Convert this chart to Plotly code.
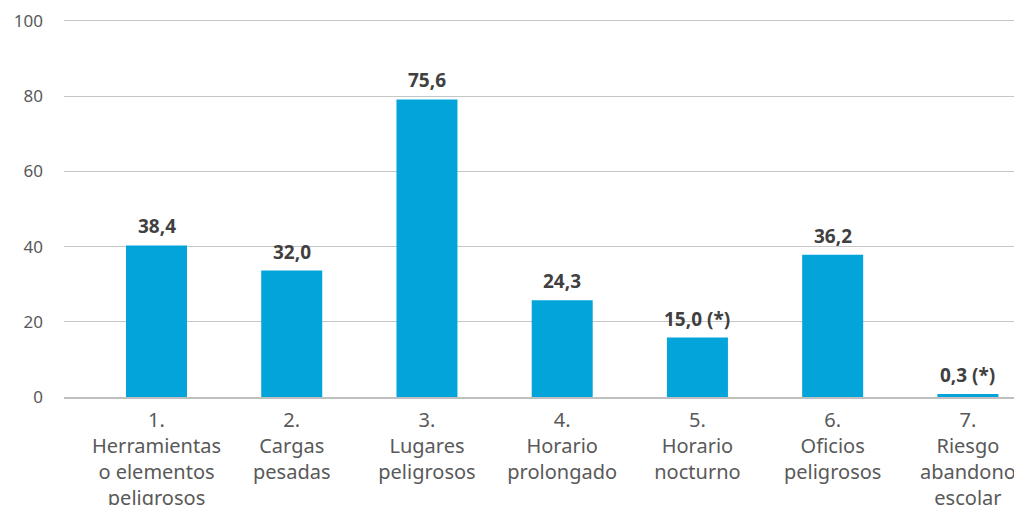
import plotly.graph_objects as go

categories = [
    "1.<br>Herramientas<br>o elementos<br>peligrosos",
    "2.<br>Cargas<br>pesadas",
    "3.<br>Lugares<br>peligrosos",
    "4.<br>Horario<br>prolongado",
    "5.<br>Horario<br>nocturno",
    "6.<br>Oficios<br>peligrosos",
    "7.<br>Riesgo<br>abandono<br>escolar",
]
bar_heights = [40.3, 33.6, 79.1, 25.7, 15.8, 37.8, 0.8]
value_labels = ["38,4", "32,0", "75,6", "24,3", "15,0 (*)", "36,2", "0,3 (*)"]
y_ticks = [0, 20, 40, 60, 80, 100]

fig = go.Figure(
    go.Bar(
        x=categories,
        y=bar_heights,
        marker=dict(color="#02A4DA", line=dict(width=0)),
        width=0.451,
        hoverinfo="skip",
    )
)

for cat, h, lab in zip(categories, bar_heights, value_labels):
    fig.add_annotation(
        x=cat, y=h, text=lab, showarrow=False,
        xanchor="center", yanchor="bottom", yshift=4,
        font=dict(family="Noto Sans", size=19, color="#404040", weight="bold"),
    )

# page body has an 8px default margin, so the figure is sized to fit the window
fig.update_layout(
    width=1014,
    height=497,
    margin=dict(l=56, r=0, t=11, b=108),
    paper_bgcolor="white",
    plot_bgcolor="white",
    showlegend=False,
    font=dict(family="Noto Sans", color="#595959"),
)
fig.update_xaxes(
    range=[-0.684, 6.40],
    automargin=False,
    showline=True,
    linecolor="#BFBFBF",
    linewidth=1.5,
    showgrid=False,
    ticks="",
    ticklabelstandoff=4,
    tickfont=dict(size=20, color="#595959"),
)
fig.update_yaxes(
    range=[0, 100.5],
    automargin=False,
    tickvals=y_ticks,
    showgrid=True,
    gridcolor="#C6C6C6",
    gridwidth=1,
    zeroline=False,
    showline=False,
    ticks="",
    ticklabelstandoff=20,
    tickfont=dict(size=17, color="#595959"),
)

fig.write_html("out.html")
